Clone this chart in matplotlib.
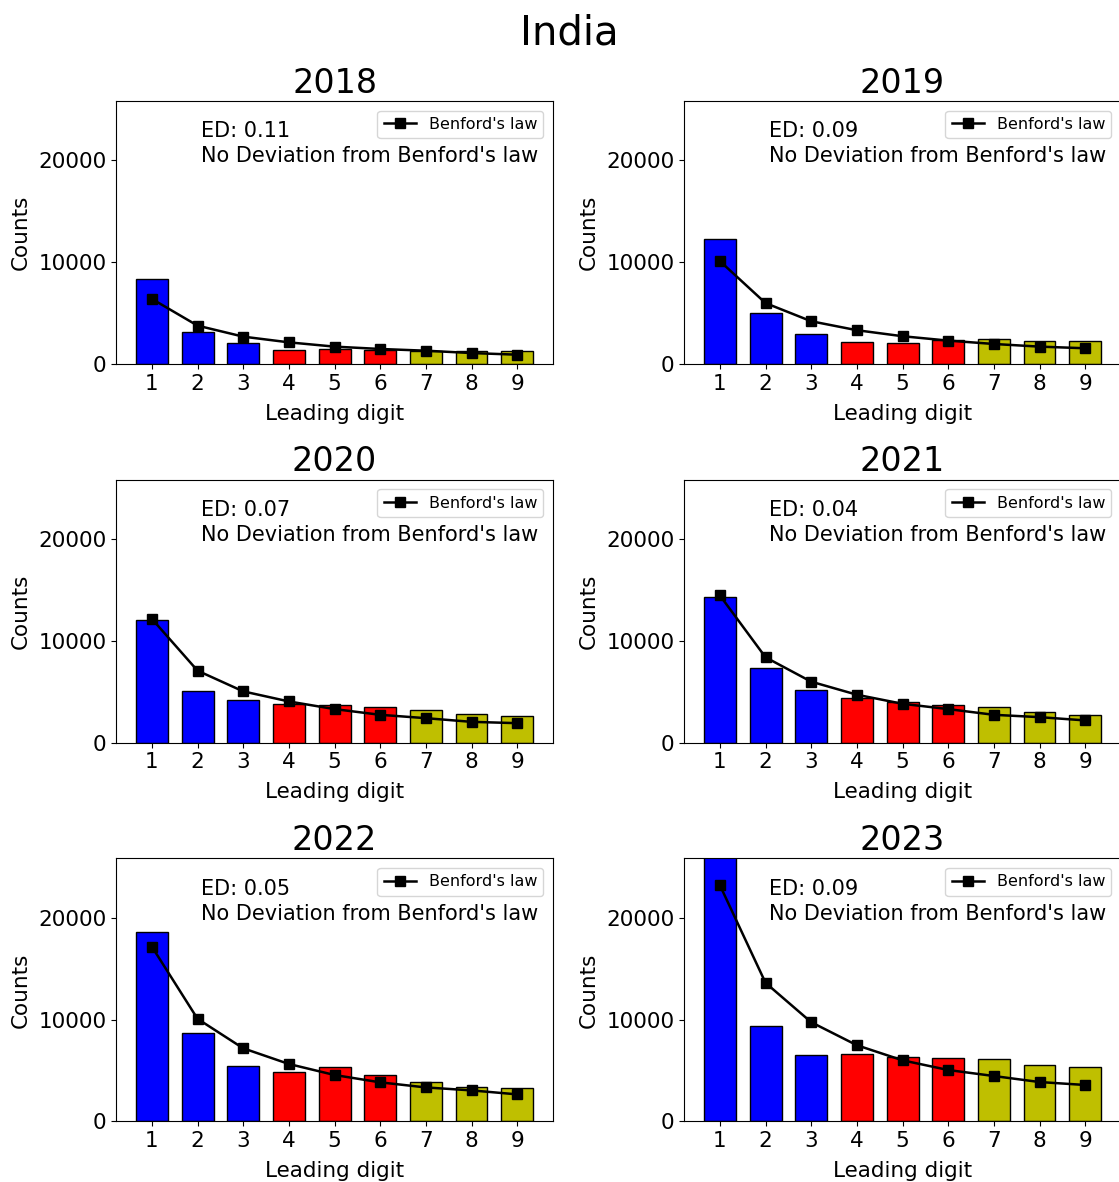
import numpy as np
import matplotlib.pyplot as plt

# 首位数字 1-9
digits = [1, 2, 3, 4, 5, 6, 7, 8, 9]

years = ["2018", "2019", "2020", "2021", "2022", "2023"]

# 每年实际的首位数字计数
counts_2018 = [8350, 3110, 2030, 1340, 1440, 1410, 1310, 1280, 1310]
counts_2019 = [12300, 5030, 2990, 2140, 2040, 2370, 2500, 2270, 2270]
counts_2020 = [12060, 5080, 4130, 3770, 3640, 3510, 3150, 2760, 2560]
counts_2021 = [14260, 7340, 5180, 4390, 3970, 3700, 3480, 2990, 2720]
counts_2022 = [18590, 8690, 5440, 4850, 5310, 4590, 3870, 3410, 3280]
counts_2023 = [26500, 9380, 6490, 6620, 6360, 6260, 6100, 5540, 5310]

# 本福特定律的期望计数
benford_2018 = [6390, 3770, 2690, 2130, 1710, 1480, 1310, 1080, 920]
benford_2019 = [10100, 5980, 4200, 3320, 2730, 2300, 1970, 1710, 1550]
benford_2020 = [12130, 7050, 5020, 4030, 3280, 2720, 2390, 2030, 1900]
benford_2021 = [14430, 8360, 5970, 4690, 3800, 3280, 2720, 2490, 2170]
benford_2022 = [17150, 10070, 7180, 5640, 4560, 3840, 3340, 3050, 2660]
benford_2023 = [23180, 13600, 9740, 7480, 6000, 5050, 4460, 3870, 3580]

# 欧氏距离
ed_values = [0.11, 0.09, 0.07, 0.04, 0.05, 0.09]

all_counts = [counts_2018, counts_2019, counts_2020, counts_2021, counts_2022, counts_2023]
all_benford = [benford_2018, benford_2019, benford_2020, benford_2021, benford_2022, benford_2023]

# 1-3 蓝色, 4-6 红色, 7-9 黄色
bar_colors = ["b", "b", "b", "r", "r", "r", "y", "y", "y"]

fig = plt.figure(figsize=(11.19, 11.82), dpi=100)

# 六个子图的位置 (左, 下, 宽, 高)
col_left = [0.1037, 0.6113]
row_bottom = [0.692, 0.3718, 0.0512]
ax_w = 0.3905
ax_h = 0.2225

for k in range(6):
    r = k // 2
    c = k % 2
    ax = fig.add_axes([col_left[c], row_bottom[r], ax_w, ax_h])

    ax.bar(digits, all_counts[k], width=0.7, color=bar_colors,
           edgecolor="black", linewidth=1)
    ax.plot(digits, all_benford[k], color="black", marker="s",
            markersize=7, linewidth=1.8, label="Benford's law")

    ax.set_ylim(0, 25800)
    ax.set_xticks(digits)
    ax.set_yticks([0, 10000, 20000])
    ax.tick_params(labelsize=15.5)

    ax.set_title(years[k], fontsize=24)
    ax.set_xlabel("Leading digit", fontsize=15.5, labelpad=7)
    ax.set_ylabel("Counts", fontsize=15.5, labelpad=5)

    # 两行说明文字
    ax.text(0.195, 0.863, "ED: %.2f" % ed_values[k],
            transform=ax.transAxes, ha="left", va="baseline", fontsize=15)
    ax.text(0.195, 0.768, "No Deviation from Benford's law",
            transform=ax.transAxes, ha="left", va="baseline", fontsize=15)
    ax.legend(loc="upper right", fontsize=11.5, borderaxespad=0.6)

fig.text(0.509, 0.962, "India", ha="center", va="baseline", fontsize=29)

plt.savefig("out.png", dpi=100)
